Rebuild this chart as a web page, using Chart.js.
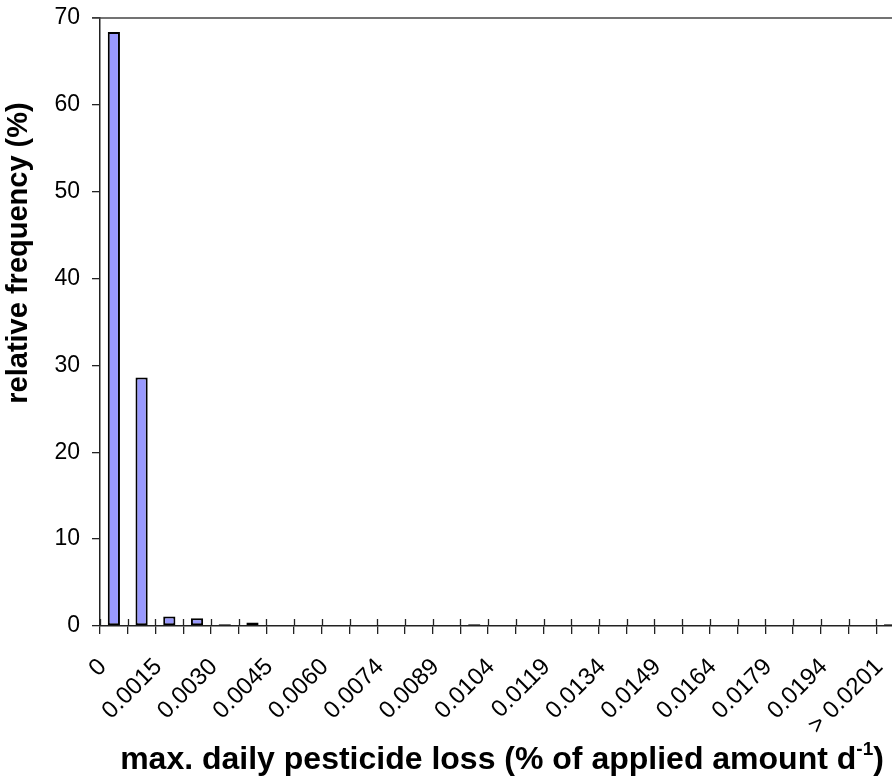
<!DOCTYPE html>
<html>
<head>
<meta charset="utf-8">
<title>max. daily pesticide loss</title>
<script src="https://cdn.jsdelivr.net/npm/chart.js"></script>
<style>
	body { margin: 0; overflow: hidden; background: #fff; }
	#wrap { width: 904px; height: 783px; }
</style>
</head>
<body>
<div id="wrap"><canvas id="hist" width="904" height="783"></canvas></div>
<script>
// histogram bins: only every second bin boundary gets a label
const binLabels = ['0', '', '0.0015', '', '0.0030', '', '0.0045', '', '0.0060', '', '0.0074', '', '0.0089', '', '0.0104', '',
	'0.0119', '', '0.0134', '', '0.0149', '', '0.0164', '', '0.0179', '', '0.0194', '', '> 0.0201'];
const relFreq = [68.4, 28.6, 1.1, 0.9, 0.2, 0.4, 0, 0, 0, 0, 0, 0, 0, 0.2, 0, 0, 0, 0, 0, 0, 0, 0, 0, 0, 0, 0, 0, 0, 0.2];
const yMax = 70;
const yStep = 10;
const yTitle = 'relative frequency (%)';
const xTitle = 'max. daily pesticide loss (% of applied amount d';
const xTitleSup = '-1';

const FONT = "'Liberation Sans', Arial, sans-serif";

// top frame line, inner halves of the x ticks, both axis titles (x title has a superscript)
const framePlugin = {
	id: 'frame',
	afterDraw(chart) {
		const { ctx, chartArea: a } = chart;
		const xs = chart.scales.x;
		ctx.save();
		ctx.strokeStyle = '#444';
		ctx.lineWidth = 1.5;
		ctx.beginPath();
		ctx.moveTo(a.left - 8, a.top);
		ctx.lineTo(a.right, a.top);
		ctx.stroke();

		const n = xs.getLabels().length;
		const step = (xs.right - xs.left) / n;
		ctx.lineWidth = 1.3;
		ctx.strokeStyle = '#222';
		ctx.beginPath();
		for (let i = 0; i <= n; i++) {
			const x = Math.round(xs.left + i * step) + 0.5;
			ctx.moveTo(x, a.bottom - 7);
			ctx.lineTo(x, a.bottom);
		}
		ctx.stroke();

		ctx.fillStyle = '#000';

		// y title, sits a bit above the middle of the axis
		ctx.save();
		ctx.translate(19, 253);
		ctx.rotate(-Math.PI / 2);
		ctx.font = 'bold 29px ' + FONT;
		ctx.textAlign = 'center';
		ctx.textBaseline = 'middle';
		ctx.fillText(yTitle, 0, 0);
		ctx.restore();

		// x title
		const big = 'bold 32px ' + FONT, small = 'bold 19px ' + FONT;
		ctx.font = big;
		const w1 = ctx.measureText(xTitle).width;
		const w3 = ctx.measureText(')').width;
		ctx.font = small;
		const w2 = ctx.measureText(xTitleSup).width;
		let x = (a.left + a.right) / 2 - (w1 + w2 + w3) / 2;
		const y = 769;
		ctx.textBaseline = 'alphabetic';
		ctx.textAlign = 'left';
		ctx.font = big;
		ctx.fillText(xTitle, x, y);
		x += w1;
		ctx.font = small;
		ctx.fillText(xTitleSup, x, y - 14);
		x += w2;
		ctx.font = big;
		ctx.fillText(')', x, y);
		ctx.restore();
	}
};

new Chart(document.getElementById('hist'), {
	type: 'bar',
	data: {
		labels: binLabels,
		datasets: [{
			data: relFreq,
			backgroundColor: '#9999ff',
			borderColor: '#000',
			borderWidth: 2,
			borderSkipped: false,
			categoryPercentage: 1,
			barPercentage: 0.44
		}]
	},
	options: {
		responsive: false,
		animation: false,
		devicePixelRatio: 1,
		layout: { padding: { top: 18, left: 0, right: 0, bottom: 0 } },
		plugins: { legend: { display: false }, tooltip: { enabled: false } },
		scales: {
			x: {
				grid: { offset: true, drawOnChartArea: false, tickLength: 8, color: '#222', lineWidth: 1.3 },
				border: { color: '#222', width: 1.5 },
				ticks: {
					autoSkip: false, minRotation: 45, maxRotation: 45, labelOffset: -11, padding: 19,
					color: '#000', font: { family: FONT, size: 24 }
				},
				afterFit(s) { s.height = 157; s.paddingLeft = 0; s.paddingRight = 0; }
			},
			y: {
				min: 0, max: yMax,
				grid: { drawOnChartArea: false, tickLength: 8, color: '#222', lineWidth: 1.3 },
				border: { color: '#222', width: 1.5 },
				ticks: { stepSize: yStep, padding: 12, color: '#000', font: { family: FONT, size: 23 } },
				afterFit(s) { s.width = 100; s.paddingTop = 0; }
			}
		}
	},
	plugins: [framePlugin]
});
</script>
</body>
</html>
